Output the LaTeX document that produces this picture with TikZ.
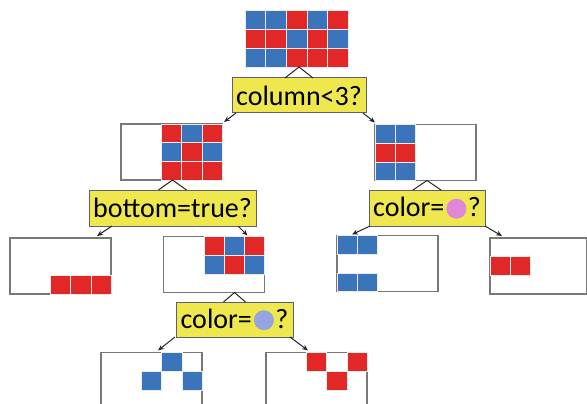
\documentclass[tikz,border=0pt]{standalone}
\usepackage{fontspec}
\setmainfont{Carlito}
\usetikzlibrary{calc,arrows.meta}
\definecolor{cblue}{RGB}{58,116,186}
\definecolor{cred}{RGB}{226,40,38}
\definecolor{qyellow}{RGB}{238,232,78}
\definecolor{qborder}{RGB}{95,95,115}
\definecolor{boxgray}{RGB}{120,120,120}
\definecolor{dotpink}{RGB}{225,135,215}
\definecolor{dotblue}{RGB}{150,165,225}
\tikzset{
 gridbox/.style={draw=boxgray, line width=1.3pt, fill=white, minimum width=101pt, minimum height=56pt, inner sep=0pt, outer sep=0pt},
 topgrid/.style={draw=boxgray!70!blue, line width=0.6pt, minimum width=103pt, minimum height=57pt, inner sep=0pt, outer sep=0pt},
 question/.style={draw=qborder, line width=1pt, fill=qyellow, inner sep=0pt, outer sep=0pt, font=\fontsize{28}{30}\selectfont, text=black},
 tent/.style={draw=black!85, line width=1pt},
 branch/.style={draw=black!85, line width=1pt, -{Stealth[length=6pt,width=5pt]}},
 cellsep/.style={draw=white!85!gray, line width=0.5pt}
}
\newcommand{\fillcells}[4]{%
 \foreach \cc/\rr/\kk in {#4} {
   \filldraw[fill=\kk, cellsep] ($(#1.north west)+({(\cc-1)*#2},{(\rr-1)*#3})$) rectangle +(#2,#3);
 }%
}
\newcommand{\dotc}[1]{\hspace{2pt}\tikz[baseline={(0pt,-8pt)}]\fill[#1] (0pt,0pt) circle (10pt);\hspace{1.5pt}}
\begin{document}
\begin{tikzpicture}[x=1pt,y=-1pt]
\useasboundingbox (0,0) rectangle (587,404);
\clip (0,0) rectangle (587,404);
% boxes
\node[topgrid] (g0) at (296.5,38.5) {};
\node[gridbox] (l1) at (171.5,152) {};
\node[gridbox] (r1) at (425.5,152.5) {};
\node[gridbox] (ll) at (60.5,266) {};
\node[gridbox] (lr) at (214,264.5) {};
\node[gridbox] (rl) at (387.5,263.5) {};
\node[gridbox, minimum width=96.4pt] (rr) at (538.2,266) {};
\node[gridbox] (bl) at (151.5,380.5) {};
\node[gridbox] (br) at (316.5,380.5) {};
% cells
\fillcells{g0}{20.6}{19}{1/1/cblue,2/1/cblue,3/1/cred,4/1/cblue,5/1/cred,
 1/2/cred,2/2/cred,3/2/cblue,4/2/cred,5/2/cblue,
 1/3/cblue,2/3/cblue,3/3/cred,4/3/cred,5/3/cred}
\fillcells{l1}{20.2}{18.67}{3/1/cred,4/1/cblue,5/1/cred,3/2/cblue,4/2/cred,5/2/cblue,3/3/cred,4/3/cred,5/3/cred}
\fillcells{r1}{20.2}{18.67}{1/1/cblue,2/1/cblue,1/2/cred,2/2/cred,1/3/cblue,2/3/cblue}
\fillcells{ll}{20.2}{18.67}{3/3/cred,4/3/cred,5/3/cred}
\fillcells{lr}{20.2}{18.67}{3/1/cred,4/1/cblue,5/1/cred,3/2/cblue,4/2/cred,5/2/cblue}
\fillcells{rl}{20.2}{18.67}{1/1/cblue,2/1/cblue,1/3/cblue,2/3/cblue}
\fillcells{rr}{20.2}{18.67}{1/2/cred,2/2/cred}
\fillcells{bl}{20.2}{18.67}{4/1/cblue,3/2/cblue,5/2/cblue}
\fillcells{br}{20.2}{18.67}{3/1/cred,5/1/cred,4/2/cred}
% questions
\node[question, minimum width=134pt, minimum height=35pt] (q1) at (299,95.5) {column<3?};
\node[question, minimum width=167pt, minimum height=36pt] (q2) at (172.5,208) {bottom=true?};
\node[question, minimum width=116pt, minimum height=36pt] (q3) at (427,208) {color=\dotc{dotpink}?};
\node[question, minimum width=117pt, minimum height=35pt] (q4) at (234.5,319.5) {color=\dotc{dotblue}?};
% tents
\draw[tent] ($(q1.north)+(-14,0)$) -- (q1.north |- g0.south) -- ($(q1.north)+(14,0)$);
\draw[tent] ($(q2.north)+(-14,0)$) -- (q2.north |- l1.south) -- ($(q2.north)+(14,0)$);
\draw[tent] ($(q3.north)+(-14,0)$) -- (q3.north |- r1.south) -- ($(q3.north)+(14,0)$);
\draw[tent] ($(q4.north)+(-11,0)$) -- (q4.north |- lr.south) -- ($(q4.north)+(11,0)$);
% branches
\draw[branch] ($(q1.south west)+(4,0)$) -- ($(l1.north east)+(2,-2)$);
\draw[branch] ($(q1.south east)+(-3,0)$) -- ($(r1.north west)+(0,-2)$);
\draw[branch] ($(q2.south west)+(23,0)$) -- ($(ll.north east)+(-14,-2)$);
\draw[branch] ($(q2.south east)+(-18,0)$) -- ($(lr.north east)+(-17,-1)$);
\draw[branch] ($(q3.south west)+(1,0)$) -- ($(rl.north west)+(15,-1)$);
\draw[branch] ($(q3.south east)+(0,0)$) -- ($(rr.north west)+(12,-2)$);
\draw[branch] ($(q4.south west)+(-1,0)$) -- ($(bl.north west)+(57,-2)$);
\draw[branch] ($(q4.south east)+(-3,0)$) -- ($(br.north west)+(42,-2)$);
\end{tikzpicture}
\end{document}
